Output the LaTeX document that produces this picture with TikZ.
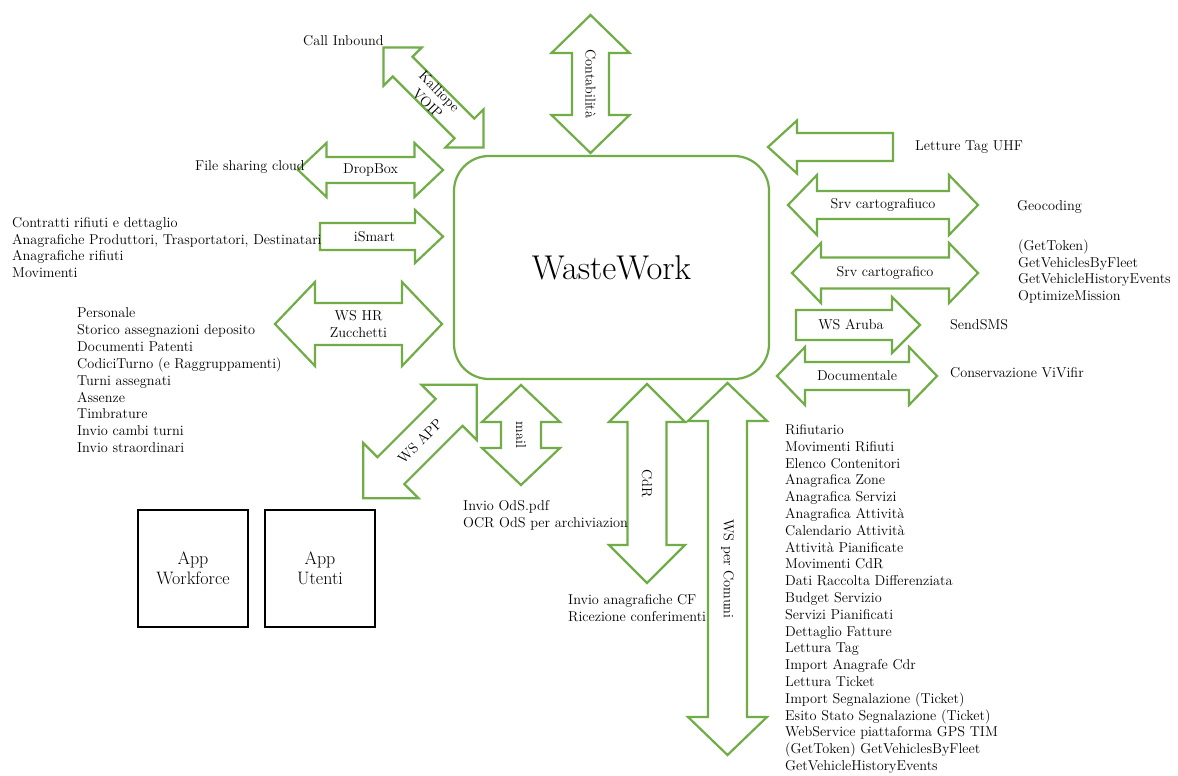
\documentclass[tikz,border=0pt]{standalone}
\definecolor{gr}{RGB}{112,173,71}
\tikzset{
  arr/.style={draw=gr, line width=2.2pt, fill=white, line join=miter},
  txt/.style={font=\fontsize{14.3}{16.8}\selectfont, inner sep=0pt},
  lbl/.style={txt, align=center},
  appbox/.style={draw=black, line width=2pt, minimum width=110pt, minimum height=117pt, align=center, font=\fontsize{18}{19.5}\selectfont},
}
% double arrow: name, cx, cy, angle, halflen, shaft half, head half, head length, label
\newcommand{\dblarr}[9]{%
  \begin{scope}[shift={(#2,#3)}, rotate=#4]
    \draw[arr] (-#5,0) -- (-#5+#8,#7) -- (-#5+#8,#6) -- (#5-#8,#6) -- (#5-#8,#7) -- (#5,0)
      -- (#5-#8,-#7) -- (#5-#8,-#6) -- (-#5+#8,-#6) -- (-#5+#8,-#7) -- cycle;
    \node[lbl, transform shape] (#1) at (0,0) {#9};
  \end{scope}}
% single arrow (tip at +halflen)
\newcommand{\sglarr}[9]{%
  \begin{scope}[shift={(#2,#3)}, rotate=#4]
    \draw[arr] (-#5,#6) -- (#5-#8,#6) -- (#5-#8,#7) -- (#5,0) -- (#5-#8,-#7) -- (#5-#8,-#6) -- (-#5,-#6) -- cycle;
    \node[lbl, transform shape] (#1) at (-#8/4,0) {#9};
  \end{scope}}
\begin{document}
\begin{tikzpicture}[x=1pt,y=-1pt]
\fill[white] (0,0) rectangle (1178,776);
\useasboundingbox (0,0) rectangle (1178,776);

% central system
\node[draw=gr, line width=2.2pt, rounded corners=35pt, minimum width=315pt, minimum height=223pt,
      font=\fontsize{34.4}{40}\selectfont] (ww) at (611.5,267.5) {WasteWork};

% double arrows
\dblarr{kal}{433.5}{97.5}{-45}{70.7}{14}{27}{27}{Kalliope\\VOIP}
\dblarr{cont}{590.5}{84}{-90}{69}{18.5}{39}{38}{Contabilità}
\dblarr{drop}{370.5}{170}{0}{72.5}{13}{27}{28.5}{DropBox}
\dblarr{wshr}{358.5}{324}{0}{83.5}{21}{42}{40}{WS HR\\Zucchetti}
\dblarr{wsapp}{420}{441.5}{45}{80.2}{19}{39}{39}{WS APP}
\dblarr{mail}{521}{435}{-90}{50}{20}{39}{37}{mail}
\dblarr{cdr}{647}{483.5}{-90}{99.5}{19.5}{38}{38}{CdR}
\dblarr{wsc}{727.5}{569}{-90}{186}{19.5}{39.5}{38}{WS per Comuni}
\dblarr{srva}{883}{205}{0}{95}{14}{30}{29}{Srv cartografiuco}
\dblarr{srvb}{885}{273}{0}{93}{15.5}{30}{29}{Srv cartografico}
\dblarr{doc}{857}{376}{0}{80}{14}{29}{28}{Documentale}

% single arrows
\sglarr{ismart}{381.5}{236.5}{0}{61.5}{13.5}{26.5}{28}{iSmart}
\sglarr{uhf}{830.5}{147}{180}{62.5}{14}{26.5}{29}{}
\sglarr{aruba}{858}{325}{0}{62}{15}{28}{28}{WS Aruba}

% app boxes
\node[appbox] (appw) at (193,568.5) {App\\Workforce};
\node[appbox] (appu) at (320,568.5) {App\\Utenti};

% free texts
\node[txt, anchor=base west] (call) at (303,45.5) {Call Inbound};
\node[txt, anchor=base west] (fsc) at (195,170.5) {File sharing cloud};
\node[txt, anchor=base west] (tuhf) at (915,150.5) {Letture Tag UHF};
\node[txt, anchor=base west] (geo) at (1017,210.5) {Geocoding};
\node[txt, anchor=base west] (sms) at (950,329.5) {SendSMS};
\node[txt, anchor=base west] (cons) at (950,377.5) {Conservazione ViVifir};

\foreach \t [count=\i from 0] in {(GetToken), GetVehiclesByFleet, GetVehicleHistoryEvents, OptimizeMission}
  \node[txt, anchor=base west] (gt\i) at (1018,250.5+16.5*\i) {\t};

\foreach \t [count=\i from 0] in {Contratti rifiuti e dettaglio, {Anagrafiche Produttori, Trasportatori, Destinatari}, Anagrafiche rifiuti, Movimenti}
  \node[txt, anchor=base west] (is\i) at (12,227.5+16.7*\i) {\t};

\foreach \t [count=\i from 0] in {Personale, Storico assegnazioni deposito, Documenti Patenti, CodiciTurno (e Raggruppamenti), Turni assegnati, Assenze, Timbrature, Invio cambi turni, Invio straordinari}
  \node[txt, anchor=base west] (hr\i) at (77,317.5+16.9*\i) {\t};

\foreach \t [count=\i from 0] in {Invio OdS.pdf, OCR OdS per archiviazion}
  \node[txt, anchor=base west] (ods\i) at (463,510.5+16.9*\i) {\t};

\foreach \t [count=\i from 0] in {Invio anagrafiche CF, Ricezione conferimenti}
  \node[txt, anchor=base west] (cf\i) at (568,604.5+16.9*\i) {\t};

\foreach \t [count=\i from 0] in {Rifiutario, Movimenti Rifiuti, Elenco Contenitori, Anagrafica Zone, Anagrafica Servizi, Anagrafica Attività, Calendario Attività, Attività Pianificate, Movimenti CdR, Dati Raccolta Differenziata, Budget Servizio, Servizi Pianificati, Dettaglio Fatture, Lettura Tag, Import Anagrafe Cdr, Lettura Ticket, Import Segnalazione (Ticket), Esito Stato Segnalazione (Ticket), WebService piattaforma GPS TIM, (GetToken) GetVehiclesByFleet, GetVehicleHistoryEvents}
  \node[txt, anchor=base west] (wl\i) at (785,434.5+16.8*\i) {\t};
\end{tikzpicture}
\end{document}
